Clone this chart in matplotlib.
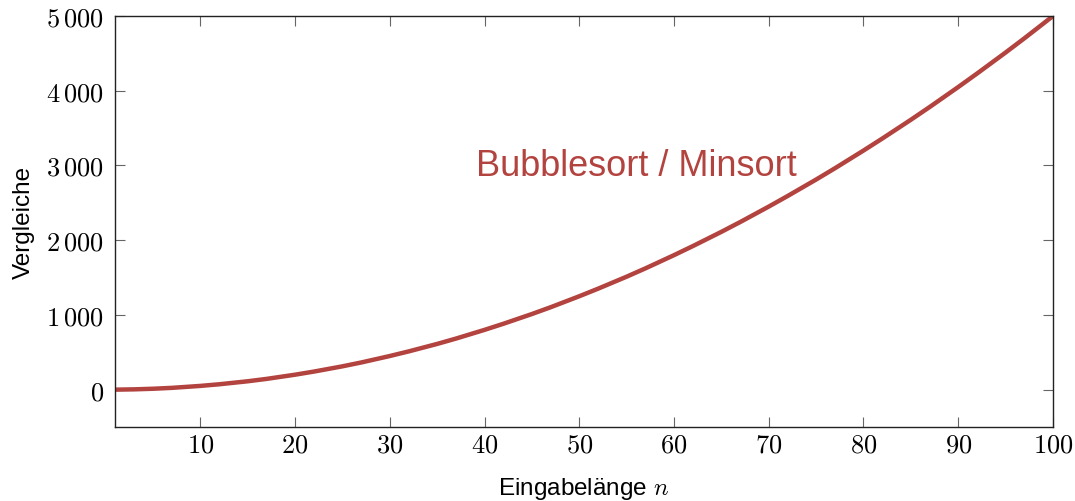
import matplotlib
matplotlib.use("Agg")
import matplotlib.pyplot as plt

# --- data (comparisons vs. input length) ---
n_values = [1, 3, 5, 7, 10, 12, 15, 17, 20, 22, 25, 27, 30, 32, 35, 37, 40, 42, 45, 47,
            50, 52, 55, 57, 60, 62, 65, 67, 70, 72, 75, 77, 80, 82, 85, 87, 90, 92, 95, 97, 100]
comparisons = [0, 4, 12, 24, 50, 72, 112, 144, 200, 242, 312, 364, 450, 512, 612, 684,
               800, 882, 1012, 1104, 1250, 1352, 1512, 1624, 1800, 1922, 2112, 2244,
               2450, 2592, 2812, 2964, 3200, 3362, 3612, 3784, 4050, 4232, 4512, 4704, 5000]
x_ticks = [10, 20, 30, 40, 50, 60, 70, 80, 90, 100]
y_ticks = [0, 1000, 2000, 3000, 4000, 5000]
y_tick_labels = ["$0$", r"$1\,000$", r"$2\,000$", r"$3\,000$", r"$4\,000$", r"$5\,000$"]
series_label = "Bubblesort / Minsort"

red = "#b3433f"
plt.rcParams["mathtext.fontset"] = "cm"
plt.rcParams["font.family"] = ["Liberation Sans", "DejaVu Sans"]

fig = plt.figure(figsize=(10.75, 5.02), dpi=100)
ax = fig.add_axes([0.107, 0.1474, 0.8725, 0.8186])

ax.plot(n_values, comparisons, color=red, linewidth=3.2, solid_joinstyle="round")
ax.text(56.0, 3000, series_label, color=red, fontsize=26, ha="center", va="center")

ax.set_xlim(1, 100)
ax.set_ylim(-500, 5000)
ax.set_xticks(x_ticks)
ax.set_xticklabels([f"${t}$" for t in x_ticks])
ax.set_yticks(y_ticks)
ax.set_yticklabels(y_tick_labels)
ax.tick_params(direction="in", top=True, right=True, length=7, width=0.8,
               color="#666666", labelsize=19)
ax.tick_params(axis="x", pad=4)
ax.tick_params(axis="y", pad=8)

ax.set_xlabel("Eingabelänge $n$", fontsize=17.5, labelpad=13)
ax.set_ylabel("Vergleiche", fontsize=17.5, labelpad=8)

for s in ax.spines.values():
    s.set_linewidth(1.0)
    s.set_color("#222222")

fig.savefig("out.png", dpi=100)
